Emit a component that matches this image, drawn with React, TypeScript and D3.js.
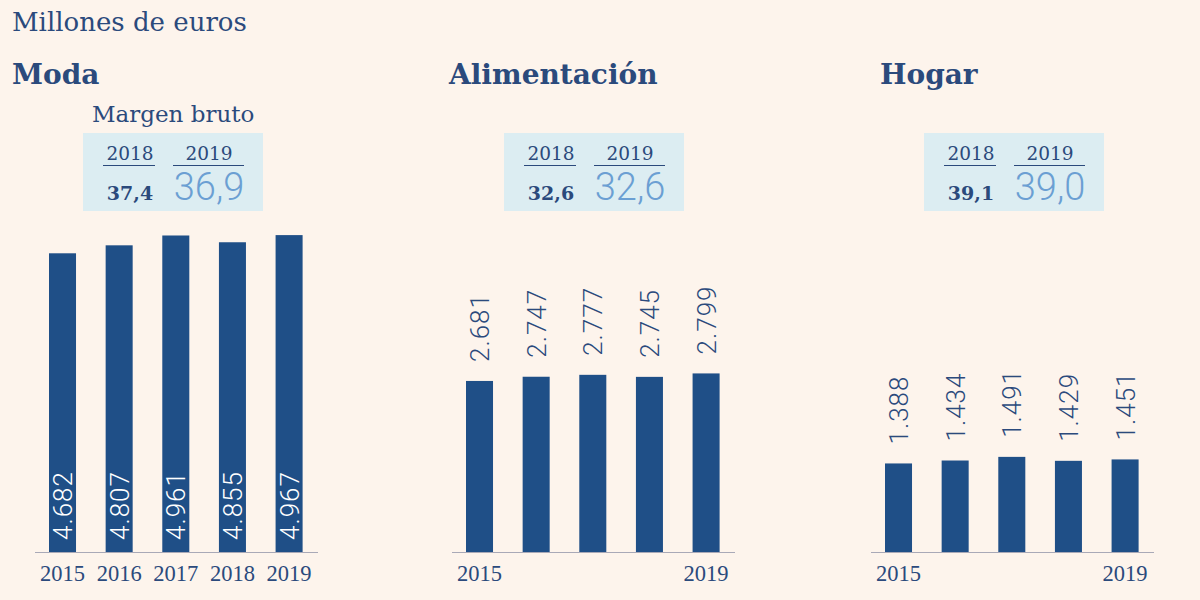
import React from "react";
import * as d3 from "d3";

const years = ["2015", "2016", "2017", "2018", "2019"];
const categories = ["Moda", "Alimentación", "Hogar"];
const moda = [4682, 4807, 4961, 4855, 4967];
const alimentacion = [2681, 2747, 2777, 2745, 2799];
const hogar = [1388, 1434, 1491, 1429, 1451];
const margen2018 = ["37,4", "32,6", "39,1"];
const margen2019 = ["36,9", "32,6", "39,0"];
const marginYears = ["2018", "2019"];

const series = [moda, alimentacion, hogar];
const panelX = [35, 452, 871];
const titleX = [12, 449, 880];
const boxX = [83, 504, 924];

const BG = "#fdf4ec";
const BAR = "#1f4f87";
const TXT = "#2b4a7c";
const BOX = "#dcedf2";
const LIGHT = "#6b9fd3";
const AXIS = "#a9a9b7";
const SERIF = "'DejaVu Serif', serif";
const SERIF2 = "'Liberation Serif', serif";
const SANS = "Roboto, 'Open Sans', sans-serif";

const locale = d3.formatLocale({ decimal: ",", thousands: ".", grouping: [3], currency: ["", "€"] });
const fmt = locale.format(",d");

const BASE = 552;
const y = d3.scaleLinear().domain([0, 5000]).range([BASE, 233]);

function Panel({ idx }: { idx: number }) {
  const x0 = panelX[idx];
  const x = d3
    .scaleBand<string>()
    .domain(years)
    .range([x0 + 14, x0 + 14 + 4 * 56.65 + 27])
    .paddingInner(0.523)
    .paddingOuter(0);
  const vals = series[idx];
  const inside = idx === 0;
  const bx = boxX[idx];
  return (
    <g>
      <text x={titleX[idx]} y={84} fontFamily={SERIF} fontWeight="bold" fontSize={28} fill={TXT}>
        {categories[idx]}
      </text>
      <rect x={bx} y={133} width={180} height={78} fill={BOX} />
      <text x={bx + 47} y={160} textAnchor="middle" fontFamily={SERIF} fontSize={18.5} fill={TXT}>
        {marginYears[0]}
      </text>
      <text x={bx + 126} y={160} textAnchor="middle" fontFamily={SERIF} fontSize={18.5} fill={TXT}>
        {marginYears[1]}
      </text>
      <line x1={bx + 20} x2={bx + 72} y1={165.5} y2={165.5} stroke={TXT} strokeWidth={1.2} />
      <line x1={bx + 90} x2={bx + 161} y1={165.5} y2={165.5} stroke={TXT} strokeWidth={1.2} />
      <text x={bx + 47} y={200} textAnchor="middle" fontFamily={SERIF} fontWeight="bold" fontSize={19} fill={TXT}>
        {margen2018[idx]}
      </text>
      <text x={bx + 126} y={200} textAnchor="middle" fontFamily={SANS} fontWeight={300} fontSize={38} fill={LIGHT}>
        {margen2019[idx]}
      </text>
      {vals.map((v, i) => (
        <rect key={years[i]} x={x(years[i])} y={y(v)} width={x.bandwidth()} height={BASE - y(v)} fill={BAR} />
      ))}
      <line x1={x0} x2={x0 + 283} y1={BASE + 0.5} y2={BASE + 0.5} stroke={AXIS} strokeWidth={1.2} />
      {vals.map((v, i) => {
        const cx = (x(years[i]) as number) + x.bandwidth() / 2;
        const ty = inside ? BASE - 12 : y(v) - 19;
        return (
          <text
            key={"l" + i}
            transform={`translate(${cx + 9.5},${ty}) rotate(-90)`}
            fontFamily={SANS}
            fontWeight={300}
            fontSize={26}
            letterSpacing={1}
            fill={inside ? "#ffffff" : TXT}
          >
            {fmt(v)}
          </text>
        );
      })}
      {years.map((yr, i) => {
        if (!inside && i !== 0 && i !== years.length - 1) return null;
        const cx = (x(yr) as number) + x.bandwidth() / 2;
        return (
          <text key={"y" + yr} x={cx} y={581} textAnchor="middle" fontFamily={SERIF2} fontSize={22.5} fill={TXT}>
            {yr}
          </text>
        );
      })}
    </g>
  );
}

export default function App() {
  return (
    <svg width={1200} height={600} style={{ position: "absolute", left: 0, top: 0, background: BG }}>
      <rect width={1200} height={600} fill={BG} />
      <text x={12} y={31} fontFamily={SERIF} fontSize={26} fill={TXT}>
        Millones de euros
      </text>
      <text x={92} y={122} fontFamily={SERIF} fontSize={23} fill={TXT}>
        Margen bruto
      </text>
      {categories.map((c, i) => (
        <Panel key={c} idx={i} />
      ))}
    </svg>
  );
}
